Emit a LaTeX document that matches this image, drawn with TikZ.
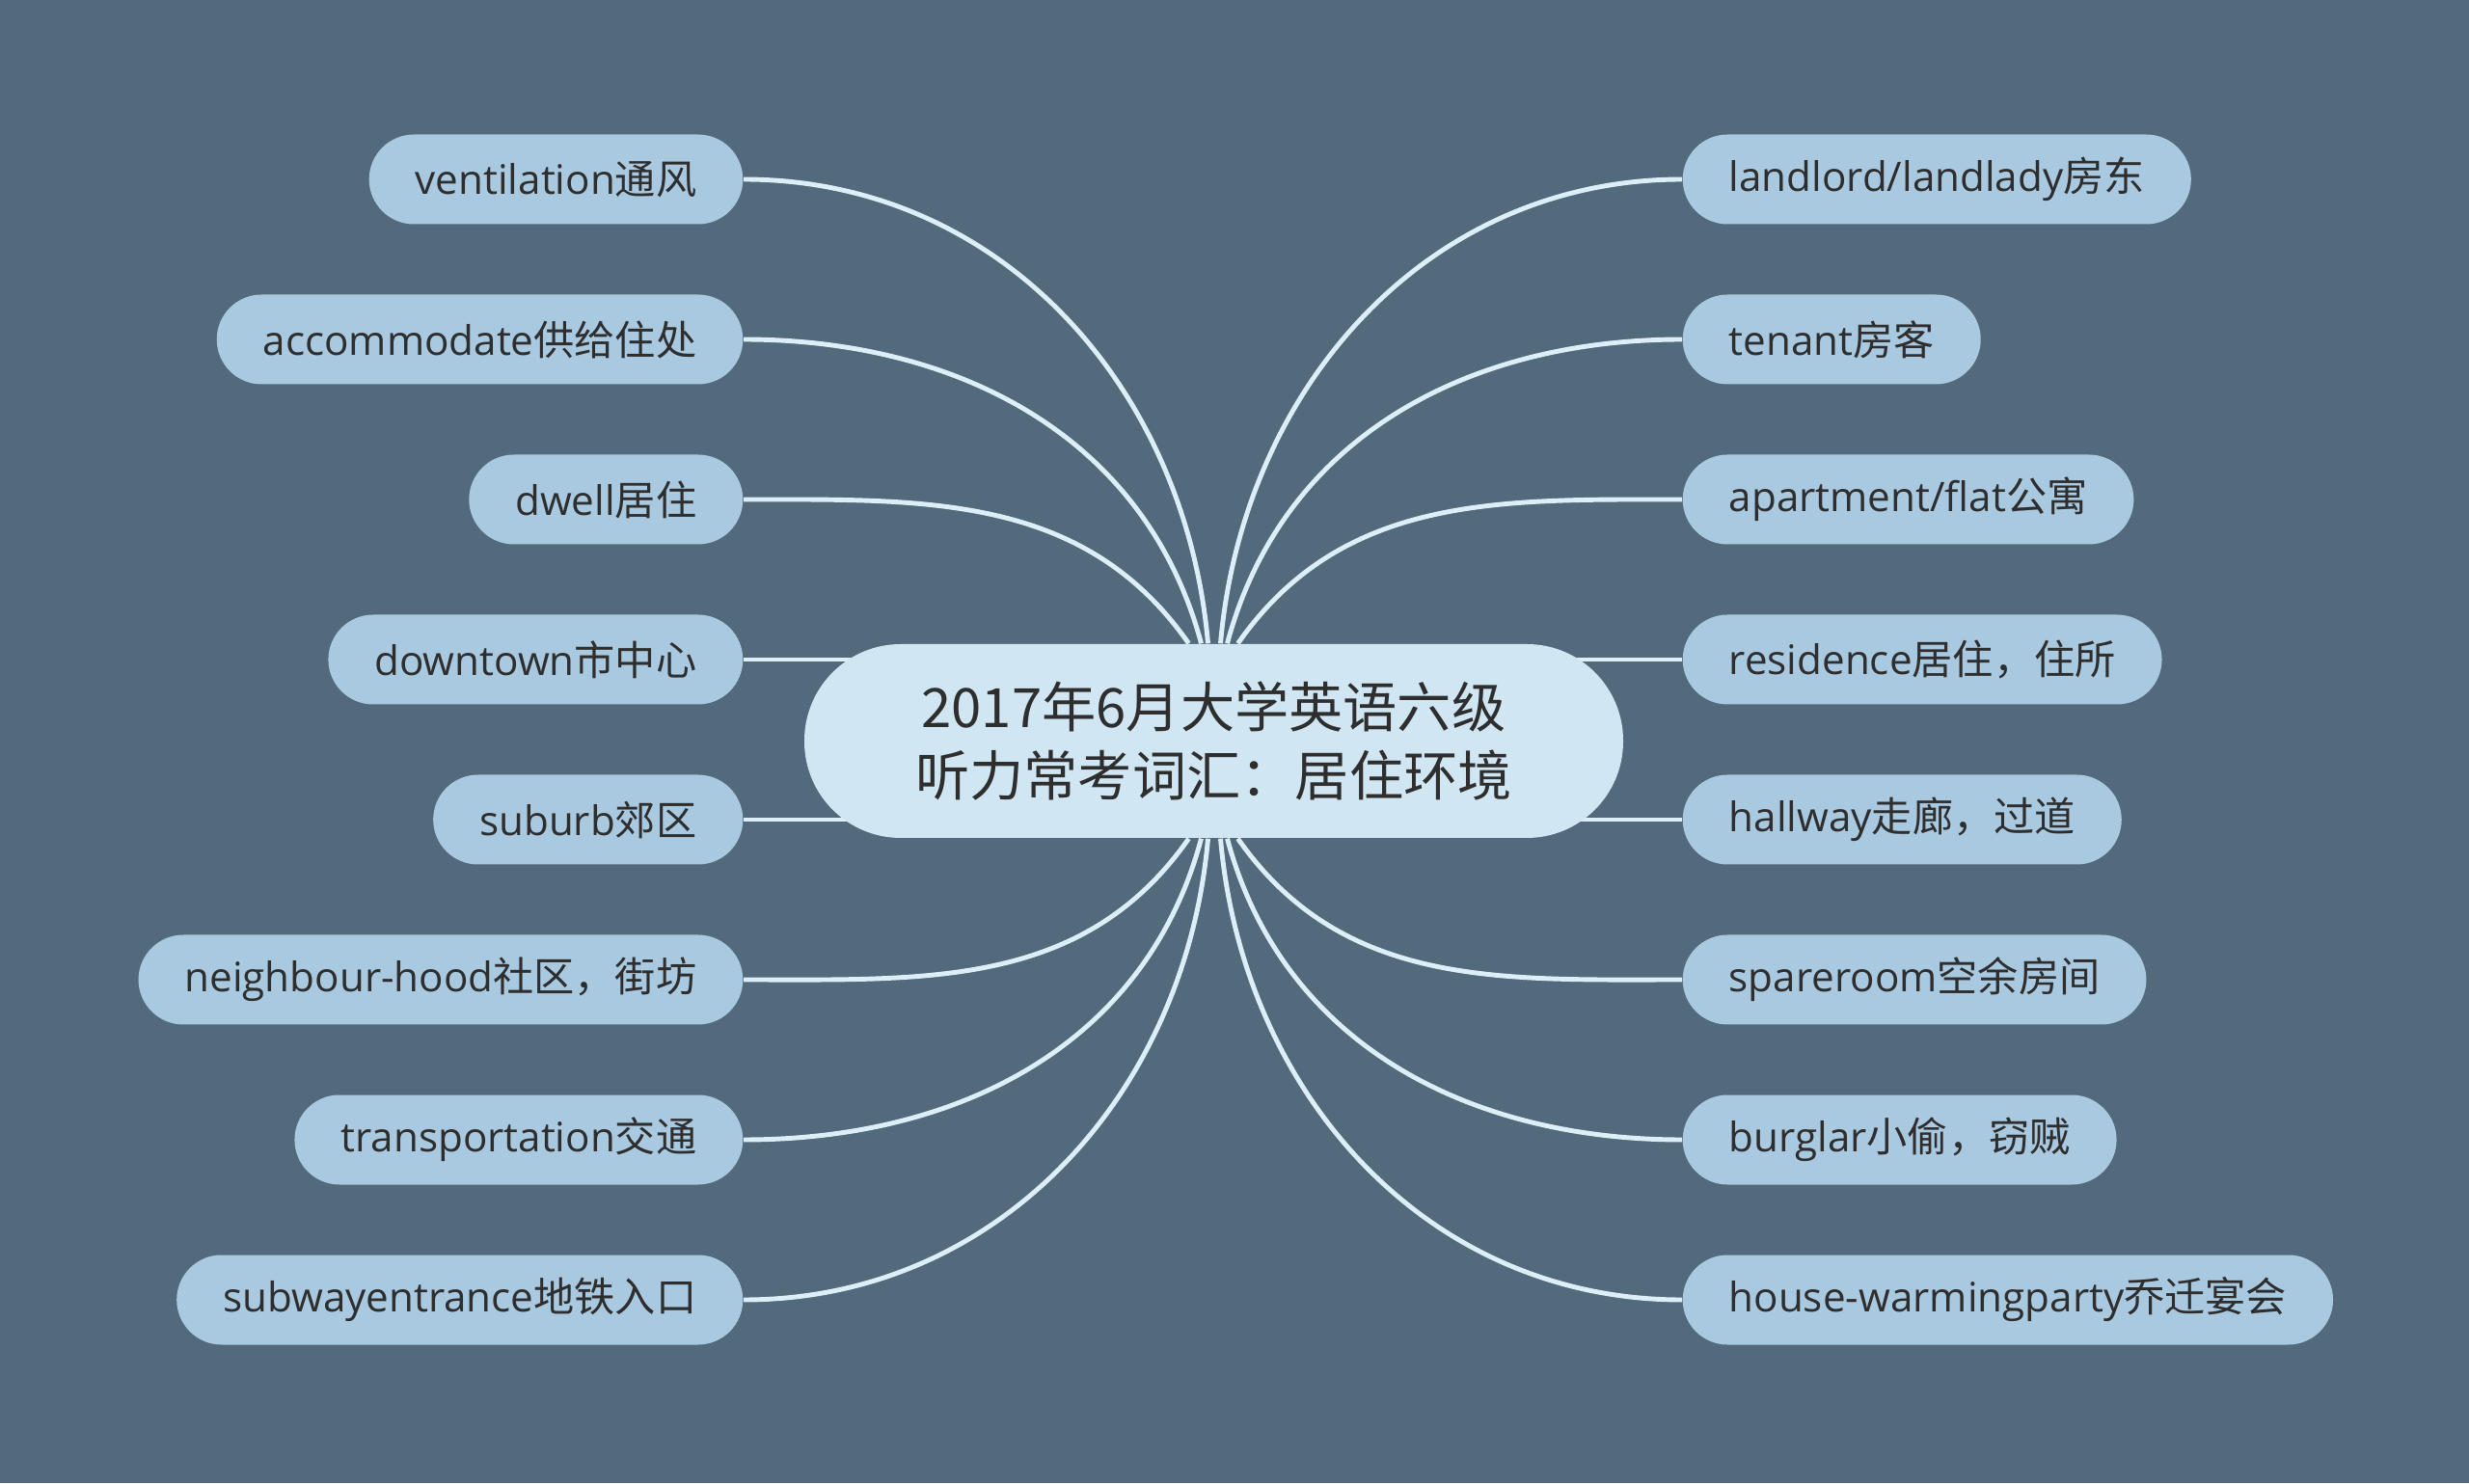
\documentclass[tikz,border=0pt]{standalone}
\usepackage{fontspec}
\setmainfont{Open Sans}
\newfontfamily\zhfont{Noto Sans CJK SC}
\newcommand{\zh}[1]{{\zhfont #1}}
\usetikzlibrary{positioning,backgrounds}

\definecolor{boardbg}{HTML}{526A7B}
\definecolor{leafblue}{HTML}{A9C9E0}
\definecolor{hubblue}{HTML}{D0E6F2}
\definecolor{branchcol}{HTML}{DCEEF8}
\definecolor{inkgray}{HTML}{2E2E2E}

\begin{document}
\begin{tikzpicture}[
    leaf/.style={fill=leafblue, text=inkgray, rounded corners=0.465cm, minimum height=0.93cm, inner xsep=0.48cm, inner ysep=0pt, font=\fontsize{12}{14}\selectfont},
    hub/.style={fill=hubblue, text=inkgray, rounded corners=1cm, minimum width=8.49cm, minimum height=2.01cm, align=center, font=\zhfont\fontsize{16}{20.4}\selectfont},
    branch/.style={draw=branchcol, line width=1.4pt}
]

    % centre topic
    \node[hub] (topic) at (12.585,7.695) {2017年6月大学英语六级\\听力常考词汇：居住环境};

    % left words
    \node[leaf, anchor=east] (ventilation) at (7.71,13.52) {ventilation\zh{通风}};
    \node[leaf, below=1.66cm of ventilation.east, anchor=east] (accommodate) {accommodate\zh{供给住处}};
    \node[leaf, below=1.66cm of accommodate.east, anchor=east] (dwell) {dwell\zh{居住}};
    \node[leaf, below=1.66cm of dwell.east, anchor=east] (downtown) {downtown\zh{市中心}};
    \node[leaf, below=1.66cm of downtown.east, anchor=east] (suburb) {suburb\zh{郊区}};
    \node[leaf, below=1.66cm of suburb.east, anchor=east] (neighbourhood) {neighbour-hood\zh{社区，街坊}};
    \node[leaf, below=1.66cm of neighbourhood.east, anchor=east] (transportation) {transportation\zh{交通}};
    \node[leaf, below=1.66cm of transportation.east, anchor=east] (subway) {subwayentrance\zh{地铁入口}};

    % right words
    \node[leaf, anchor=west] (landlord) at (17.44,13.52) {landlord/landlady\zh{房东}};
    \node[leaf, below=1.66cm of landlord.west, anchor=west] (tenant) {tenant\zh{房客}};
    \node[leaf, below=1.66cm of tenant.west, anchor=west] (apartment) {apartment/flat\zh{公寓}};
    \node[leaf, below=1.66cm of apartment.west, anchor=west] (residence) {residence\zh{居住，住所}};
    \node[leaf, below=1.66cm of residence.west, anchor=west] (hallway) {hallway\zh{走廊，过道}};
    \node[leaf, below=1.66cm of hallway.west, anchor=west] (spareroom) {spareroom\zh{空余房间}};
    \node[leaf, below=1.66cm of spareroom.west, anchor=west] (burglar) {burglar\zh{小偷，窃贼}};
    \node[leaf, below=1.66cm of burglar.west, anchor=west] (housewarming) {house-warmingparty\zh{乔迁宴会}};

    \begin{scope}[on background layer]
        \fill[boardbg] (0,0) rectangle (25.6,15.38);

        % branches, left side
        \draw[branch] (ventilation.east) to[out=0,in=95] ([xshift=-0.06cm]topic.north);
        \draw[branch] (accommodate.east) to[out=0,in=105] ([xshift=-0.13cm]topic.north);
        \draw[branch] (dwell.east) to[out=0,in=125] ([xshift=-0.26cm]topic.north);
        \draw[branch] (downtown.east) -- (downtown.east -| topic.center);
        \draw[branch] (suburb.east) -- (suburb.east -| topic.center);
        \draw[branch] (neighbourhood.east) to[out=0,in=-125] ([xshift=-0.26cm]topic.south);
        \draw[branch] (transportation.east) to[out=0,in=-105] ([xshift=-0.13cm]topic.south);
        \draw[branch] (subway.east) to[out=0,in=-95] ([xshift=-0.06cm]topic.south);

        % branches, right side
        \draw[branch] (landlord.west) to[out=180,in=85] ([xshift=0.07cm]topic.north);
        \draw[branch] (tenant.west) to[out=180,in=75] ([xshift=0.14cm]topic.north);
        \draw[branch] (apartment.west) to[out=180,in=55] ([xshift=0.25cm]topic.north);
        \draw[branch] (residence.west) -- (residence.west -| topic.center);
        \draw[branch] (hallway.west) -- (hallway.west -| topic.center);
        \draw[branch] (spareroom.west) to[out=180,in=-55] ([xshift=0.25cm]topic.south);
        \draw[branch] (burglar.west) to[out=180,in=-75] ([xshift=0.14cm]topic.south);
        \draw[branch] (housewarming.west) to[out=180,in=-85] ([xshift=0.07cm]topic.south);
    \end{scope}

\end{tikzpicture}
\end{document}
